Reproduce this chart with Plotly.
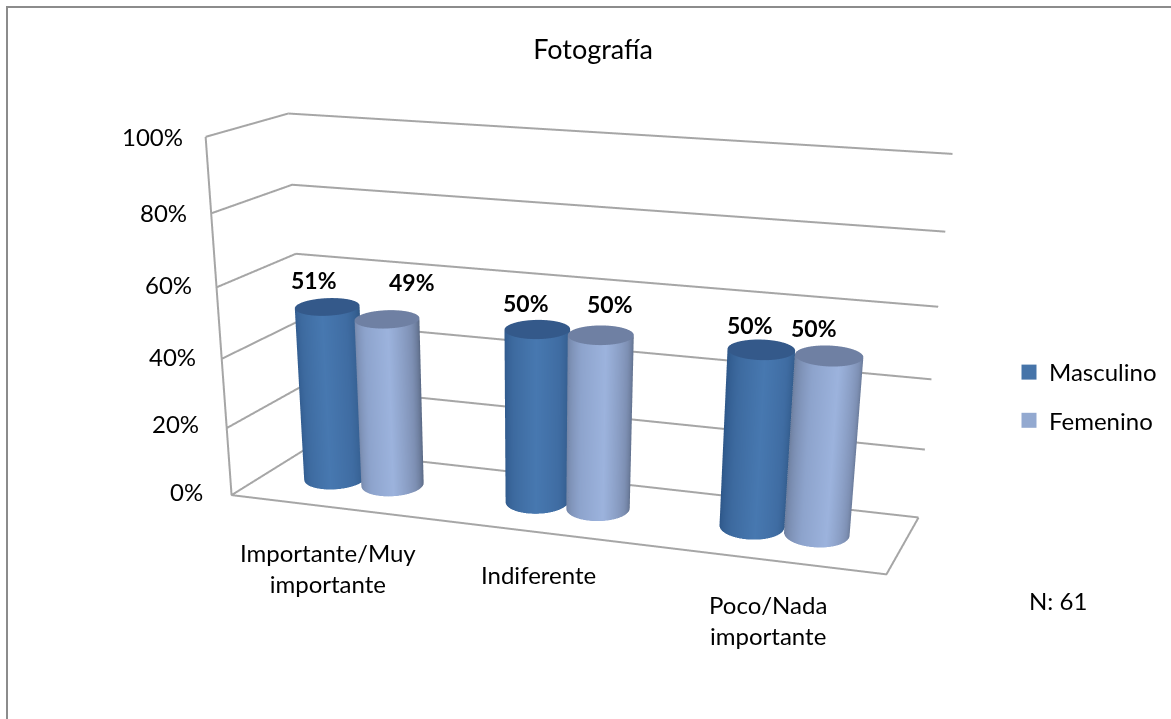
import numpy as np
import plotly.graph_objects as go

categories = ["Importante/Muy<br>importante", "Indiferente", "Poco/Nada<br>importante"]
masculino = [51, 50, 50]
femenino = [49, 50, 50]
ticks = [0, 20, 40, 60, 80, 100]
FONT = "Lato"

W, H = 1171, 1618
EYE = (0.894, -2.672, 0.665)
CENTER = (-2.806, 8.746, -5.441)
UP = (-0.1530, 0.4270, 0.8912)
ASPECT_Y, ASPECT_Z = 0.260, 0.518

XR = [0, 3]; YR = [0, 1]; ZR = [0, 100]
OFFSET = 0.145; SHIFT = -0.025; YC = 0.515
# Round base drawn level on screen: screen half-axes and the floor's on-screen basis per data unit
HALF_W = 32.0; HALF_H = 13.0
BASIS = np.array([[214.0, 54.0], [27.0, -53.0]])
MASC = [[0, "#2C5587"], [.25, "#3D6A9F"], [.5, "#4778B0"], [.75, "#3F6CA2"], [1, "#2E5684"]]
FEM = [[0, "#6D7E9E"], [.3, "#8DA3CC"], [.55, "#9CB3DD"], [.8, "#7E90B4"], [1, "#596883"]]
CAPM = "#34598A"; CAPF = "#6F80A3"
LIGHT = dict(ambient=1, diffuse=0, specular=0, roughness=1, fresnel=0)

fig = go.Figure()
t = np.linspace(0, 2 * np.pi, 121)
INV = np.linalg.inv(BASIS)
DX, DY = INV @ np.array([HALF_W * np.cos(t), -HALF_H * np.sin(t)])


def cylinder(xc, h, scale, cap):
    phi = (t + np.pi / 2 + np.pi) % (2 * np.pi) - np.pi
    sh = np.clip(.5 + phi / np.pi, 0, 1)
    X = np.array([xc + DX] * 2)
    Y = np.array([YC + DY] * 2)
    Z = np.array([np.zeros_like(t), np.full_like(t, h)])
    fig.add_surface(x=X, y=Y, z=Z, surfacecolor=np.array([sh, sh]), colorscale=scale, cmin=0, cmax=1,
                    showscale=False, lighting=LIGHT, hoverinfo="skip")
    X = np.array([xc + 0 * t, xc + DX])
    Y = np.array([YC + 0 * t, YC + DY])
    Z = np.full_like(X, h)
    fig.add_surface(x=X, y=Y, z=Z, surfacecolor=np.zeros_like(X), colorscale=[[0, cap], [1, cap]], cmin=0, cmax=1,
                    showscale=False, lighting=LIGHT, hoverinfo="skip")


for i in range(len(categories)):
    cylinder(i + .5 + SHIFT - OFFSET, masculino[i], MASC, CAPM)
    cylinder(i + .5 + SHIFT + OFFSET, femenino[i], FEM, CAPF)

LINE = dict(color="#A6A6A6", width=4)
gx = []; gy = []; gz = []
for v in ticks:
    gx += [XR[0], XR[0], XR[1], None]
    gy += [YR[0], YR[1], YR[1], None]
    gz += [v, v, v, None]
fig.add_scatter3d(x=gx, y=gy, z=gz, mode="lines", line=LINE, showlegend=False, hoverinfo="skip")
fig.add_scatter3d(x=[XR[0], XR[0], XR[1], XR[1]], y=[YR[0], YR[0], YR[0], YR[1]], z=[ZR[1], ZR[0], ZR[0], ZR[0]],
                  mode="lines", line=LINE, showlegend=False, hoverinfo="skip")
fig.add_scatter3d(x=[None], y=[None], z=[None], mode="markers", name="Masculino", legendgroup="m",
                  marker=dict(symbol="square", size=15, color="#4674A9"))
fig.add_scatter3d(x=[None], y=[None], z=[None], mode="markers", name="Femenino", legendgroup="f",
                  marker=dict(symbol="square", size=15, color="#93A9D0"))

ann = []
TX = [-27, -26, -24, -23, -22, -21]
TY = [4, 5, 2, 3, 1, 0]
for k, v in enumerate(ticks):
    ann.append(dict(x=0, y=0, z=v, text=f"{v}%", showarrow=False, xanchor="right", yanchor="middle",
                    xshift=TX[k], yshift=TY[k], font=dict(family=FONT, size=24, color="#000")))
CX = [-4, -5, 0]; CY = [-61, -42, -60]
for i, cat in enumerate(categories):
    ann.append(dict(x=i + .5, y=0, z=0, text=cat, showarrow=False, xanchor="center", yanchor="middle",
                    xshift=CX[i], yshift=CY[i], font=dict(family=FONT, size=24, color="#000")))
LX = [-13, 25, -11, 9, -11, -15]; LY = [27, 37, 26, 31, 25, 28]
for i in range(len(categories)):
    for j, (vals, off) in enumerate([(masculino, -OFFSET), (femenino, OFFSET)]):
        ann.append(dict(x=i + .5 + SHIFT + off, y=YC, z=vals[i], text=f"<b>{vals[i]}%</b>", showarrow=False,
                        xanchor="center", yanchor="middle", xshift=LX[2 * i + j], yshift=LY[2 * i + j],
                        font=dict(family=FONT, size=23, color="#000")))

ax0 = dict(showbackground=False, showgrid=False, zeroline=False, showline=False, showticklabels=False,
           title="", showspikes=False, ticks="")
fig.update_layout(
    width=W, height=H, margin=dict(l=0, r=0, t=0, b=0), paper_bgcolor="white",
    font=dict(family=FONT, size=24, color="#000"),
    title=dict(text="Fotografía", x=593 / W, y=1 - 50 / H, xanchor="center", yanchor="middle",
               font=dict(family=FONT, size=27)),
    legend=dict(x=1009 / W, y=1 - 350 / H, xanchor="left", yanchor="top", tracegroupgap=14,
                font=dict(family=FONT, size=24), bgcolor="rgba(0,0,0,0)"),
    scene=dict(domain=dict(x=[0, 1], y=[0, 1]), bgcolor="white",
               xaxis=dict(ax0, range=XR), yaxis=dict(ax0, range=YR), zaxis=dict(ax0, range=ZR, tickvals=ticks),
               aspectmode="manual", aspectratio=dict(x=1, y=ASPECT_Y, z=ASPECT_Z),
               camera=dict(eye=dict(x=EYE[0], y=EYE[1], z=EYE[2]),
                           center=dict(x=CENTER[0], y=CENTER[1], z=CENTER[2]),
                           up=dict(x=UP[0], y=UP[1], z=UP[2])),
               annotations=ann),
    annotations=[dict(x=1058 / W, y=1 - 600 / H, xref="paper", yref="paper", xanchor="center", text="N: 61",
                      showarrow=False, font=dict(family=FONT, size=24))],
    shapes=[dict(type="rect", xref="paper", yref="paper", x0=7 / W, x1=1.01, y0=-.01, y1=1 - 7 / H,
                 line=dict(color="#8C8C8C", width=2))],
)
fig.write_html("out.html", config=dict(displayModeBar=False),
               post_script="document.body.style.margin='0';document.documentElement.style.overflow='hidden';")
